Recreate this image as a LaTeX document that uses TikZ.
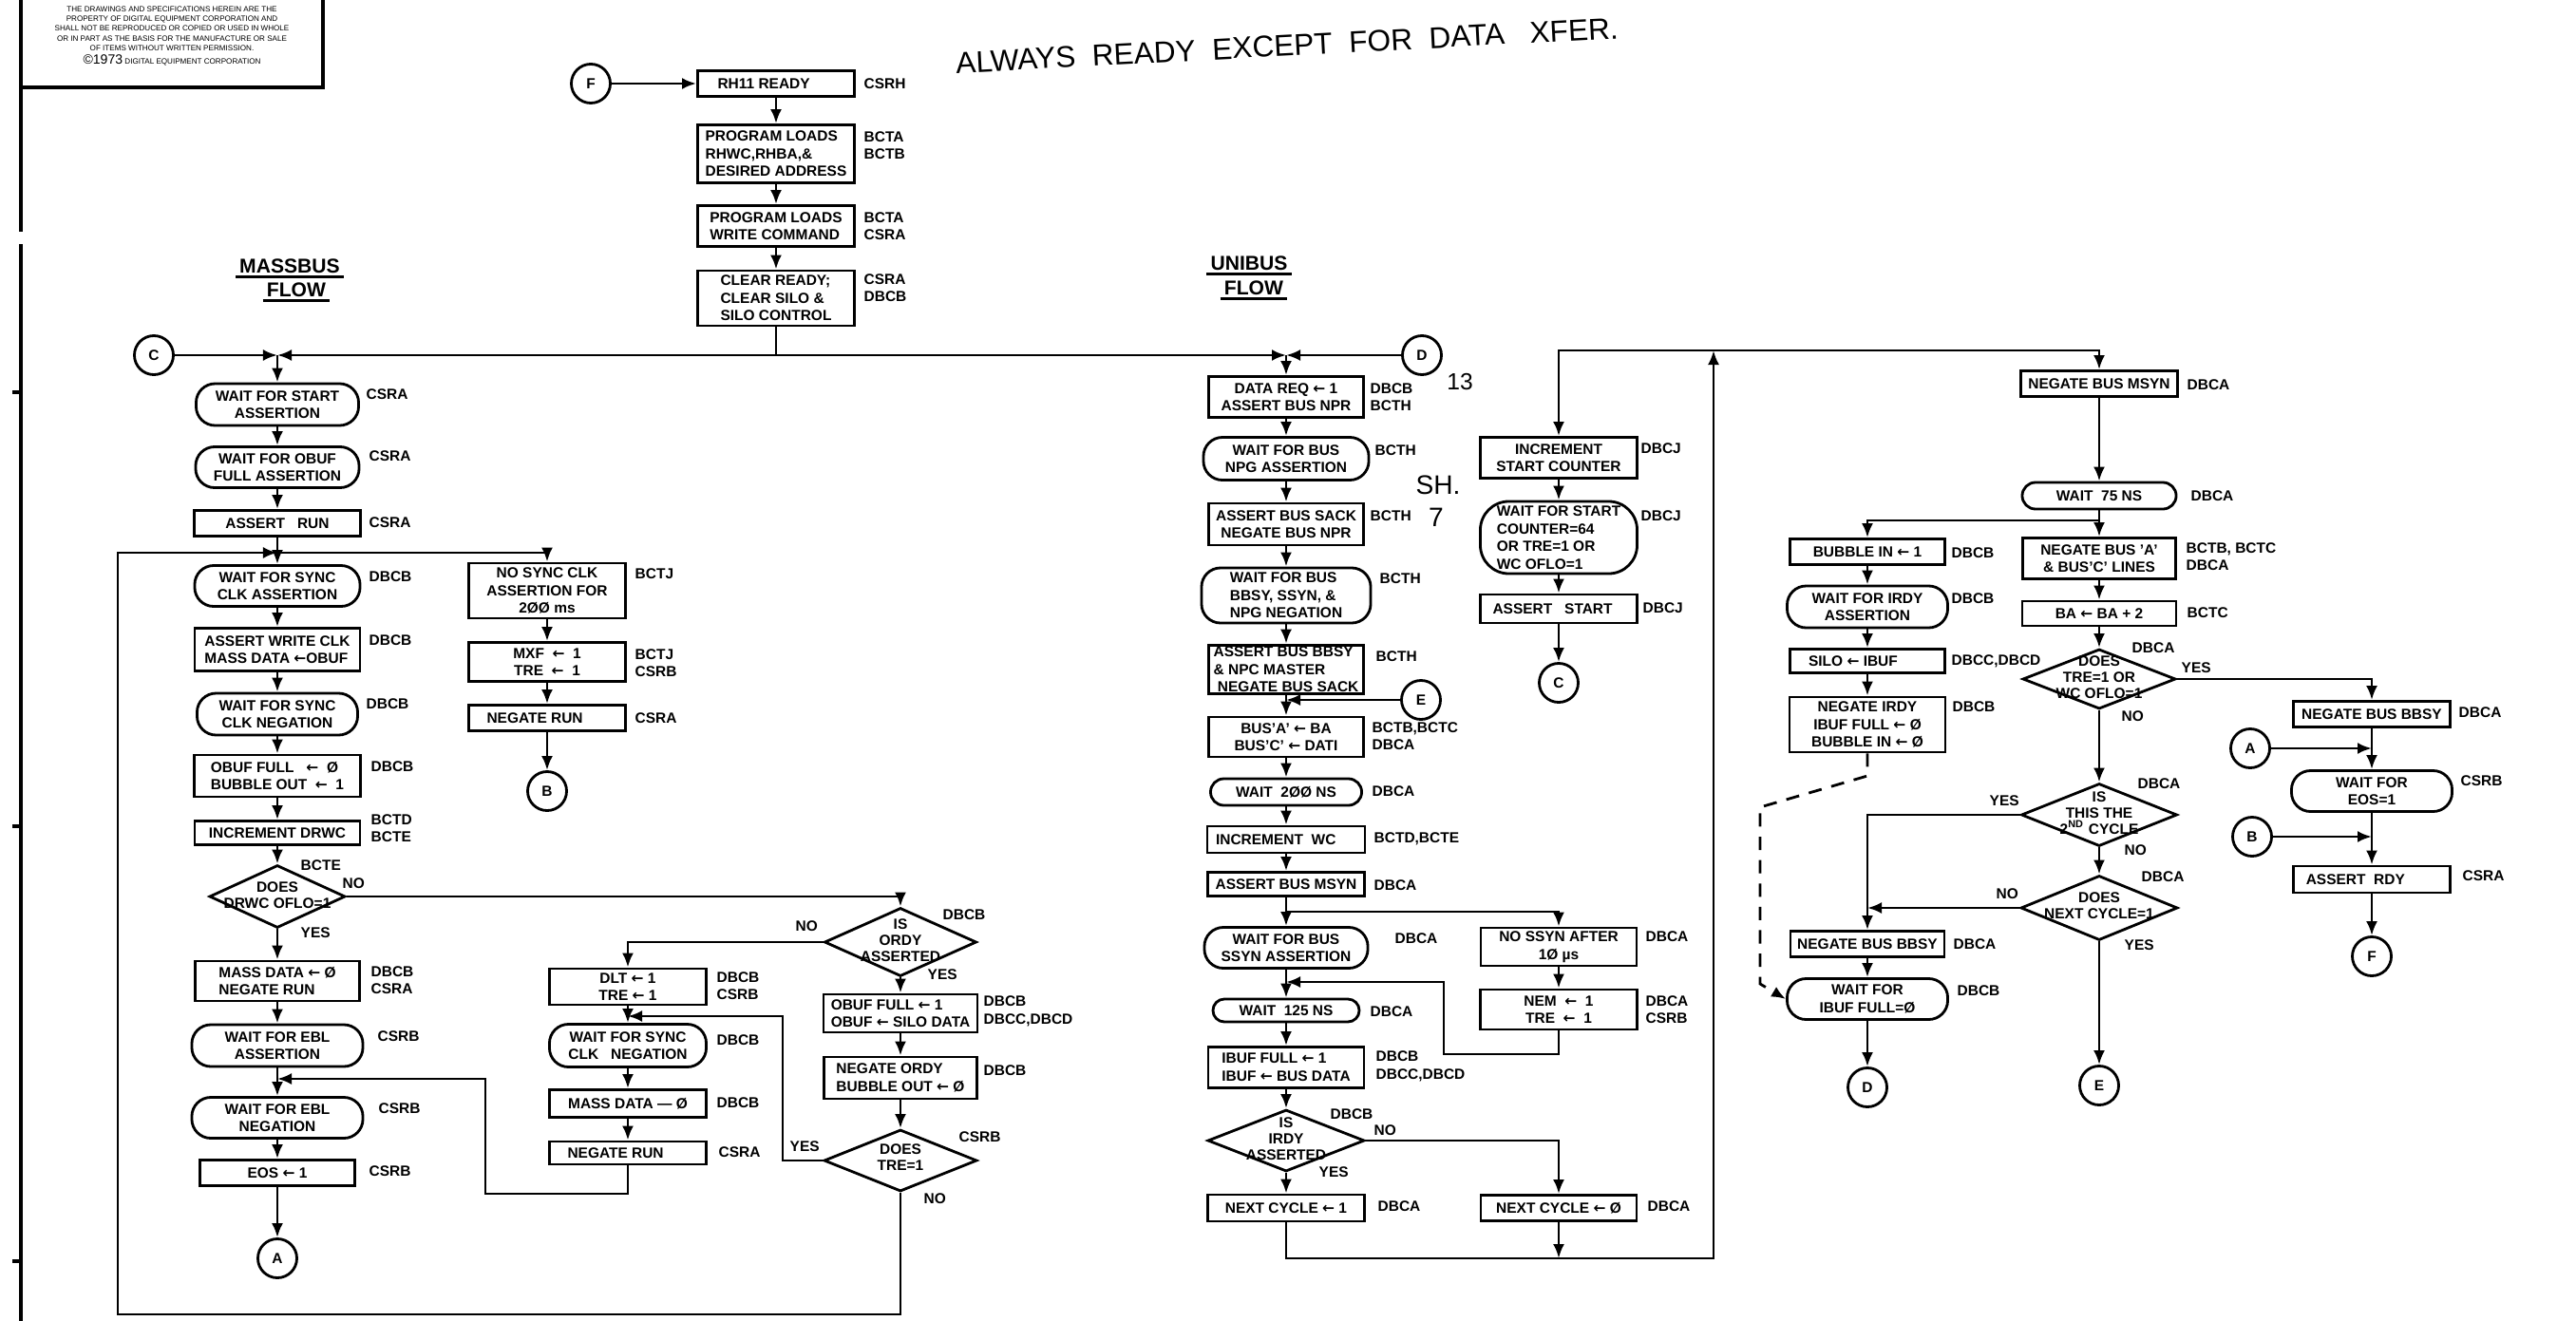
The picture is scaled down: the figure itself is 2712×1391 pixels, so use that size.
\documentclass[tikz,border=0pt]{standalone}
\usepackage{fontspec}
\setmainfont{Liberation Sans}
\newfontfamily\arrfont{DejaVu Sans}
\usetikzlibrary{arrows.meta, positioning, shapes.geometric}

\newcommand{\lett}{\fontsize{4.4}{5.3}\selectfont\bfseries}
\newcommand{\larr}{{\arrfont\bfseries ←}}

\begin{document}
\begin{tikzpicture}[x=0.01cm, y=-0.01cm,
  box/.style={draw, line width=0.8pt, minimum width=1.65cm, minimum height=0.27cm, inner sep=0.5pt, align=center, font=\lett},
  term/.style={box, rounded corners=#1}, term/.default=2mm,
  dia/.style={draw, line width=0.8pt, diamond, minimum width=1.62cm, minimum height=0.66cm, inner sep=0pt},
  dtxt/.style={align=center, inner sep=0pt, font=\fontsize{4.4}{4.8}\selectfont\bfseries},
  conn/.style={circle, draw, line width=0.8pt, minimum size=0.41cm, inner sep=0pt, font=\lett},
  lbl/.style={anchor=west, align=left, inner sep=0pt, font=\lett},
  head/.style={inner sep=1pt, font=\fontsize{6}{7}\selectfont\bfseries},
  hand/.style={inner sep=0pt, font=\fontsize{9}{10}\selectfont},
  ar/.style={-{Latex[length=1.5mm, width=1.2mm]}, line width=0.8pt}]

\useasboundingbox (0,0) rectangle (2712,1391);

% sheet edge and notice
\draw[line width=1.4pt] (22,0) -- (22,244) (22,257) -- (22,1391);
\foreach \t in {413,870,1328} \draw[line width=1pt] (13,\t) -- (22,\t);
\draw[line width=1pt] (22,92) -- (340,92) -- (340,0);
\node[inner sep=0pt, align=center, font=\fontsize{2.3}{2.9}\selectfont] (notice) at (181,38)
  {THE DRAWINGS AND SPECIFICATIONS HEREIN ARE THE\\
   PROPERTY OF DIGITAL EQUIPMENT CORPORATION AND\\
   SHALL NOT BE REPRODUCED OR COPIED OR USED IN WHOLE\\
   OR IN PART AS THE BASIS FOR THE MANUFACTURE OR SALE\\
   OF ITEMS WITHOUT WRITTEN PERMISSION.\\[1.2pt]
   {\fontsize{4}{4}\selectfont ©1973} DIGITAL EQUIPMENT CORPORATION};

\node[hand, rotate=3] (always) at (1355,48) {ALWAYS\ \ READY\ \ EXCEPT\ \ FOR\ \ DATA\ \ \ XFER.};

% start of transfer
\node[conn] (F0) at (622,88) {F};
\node[box, align=left] (rdy) at (817,88) {RH11 READY\ \ \ \ \ \ };
\node[lbl] (rdyL) at (909,88) {CSRH};
\node[box, align=left, minimum height=0.61cm] (ldaddr) at (817,162) {PROGRAM LOADS\\RHWC,RHBA,\&\\DESIRED ADDRESS};
\node[lbl] (ldaddrL) at (909,153) {BCTA\\BCTB};
\node[box, align=left, minimum height=0.43cm] (ldcmd) at (817,238) {PROGRAM LOADS\\WRITE COMMAND};
\node[lbl] (ldcmdL) at (909,238) {BCTA\\CSRA};
\node[box, align=left, minimum height=0.58cm] (clr) at (817,314) {CLEAR READY;\\CLEAR SILO \&\\SILO CONTROL};
\node[lbl] (clrL) at (909,303) {CSRA\\DBCB};

\coordinate (jL) at (292,374);
\coordinate (jM) at (817,374);
\coordinate (jR) at (1354,374);
\node[conn] (C0) at (162,374) {C};
\node[conn] (D0) at (1497,374) {D};

\draw[ar] (F0) -- (rdy);
\draw[ar] (rdy) -- (ldaddr);
\draw[ar] (ldaddr) -- (ldcmd);
\draw[ar] (ldcmd) -- (clr);
\draw[line width=0.8pt] (clr) -- (jM);
\draw[ar] (jM) -- (jL);
\draw[ar] (jM) -- (jR);
\draw[ar] (C0) -- (jL);
\draw[ar] (D0) -- (jR);

\node[head] (mbus) at (305,280) {MASSBUS};
\node[head] (mflow) at (312,305) {FLOW};
\draw[line width=0.8pt] (mbus.south west) -- (mbus.south east);
\draw[line width=0.8pt] (mflow.south west) -- (mflow.south east);
\node[head] (ubus) at (1315,277) {UNIBUS};
\node[head] (uflow) at (1320,303) {FLOW};
\draw[line width=0.8pt] (ubus.south west) -- (ubus.south east);
\draw[line width=0.8pt] (uflow.south west) -- (uflow.south east);

% massbus flow
\node[term, minimum width=1.71cm, minimum height=0.44cm] (wstart) at (292,426) {WAIT FOR START\\ASSERTION};
\node[lbl] (wstartL) at (385,415) {CSRA};
\node[term, minimum width=1.72cm, minimum height=0.43cm] (wobuf) at (292,492) {WAIT FOR OBUF\\FULL ASSERTION};
\node[lbl] (wobufL) at (388,480) {CSRA};
\node[box, minimum width=1.75cm] (arun) at (292,551) {ASSERT\ \ \ RUN};
\node[lbl] (arunL) at (388,550) {CSRA};
\coordinate (jS) at (292,582);
\node[term, minimum width=1.74cm, minimum height=0.43cm] (wsync) at (292,617) {WAIT FOR SYNC\\CLK ASSERTION};
\node[lbl] (wsyncL) at (388,607) {DBCB};
\node[box, align=left, minimum width=1.74cm, minimum height=0.45cm] (awclk) at (292,684) {ASSERT WRITE CLK\\MASS DATA \larr OBUF};
\node[lbl] (awclkL) at (388,674) {DBCB};
\node[term, minimum width=1.69cm, minimum height=0.44cm] (wsneg) at (292,752) {WAIT FOR SYNC\\CLK NEGATION};
\node[lbl] (wsnegL) at (385,741) {DBCB};
\node[box, align=left, minimum width=1.75cm, minimum height=0.44cm] (obfull) at (292,817) {OBUF FULL \ \ \larr\ \ Ø\\BUBBLE OUT \ \larr\ \ 1};
\node[lbl] (obfullL) at (390,807) {DBCB};
\node[box, minimum width=1.74cm, minimum height=0.25cm] (incdrwc) at (292,877) {INCREMENT DRWC};
\node[lbl] (incdrwcL) at (390,872) {BCTD\\BCTE};
\node[dia, minimum width=1.43cm] (ofl) at (292,944) {};
\node[dtxt] (ofltx) at (292,943) {DOES\\DRWC OFLO=1};
\node[lbl] (oflL) at (316,911) {BCTE};
\node[lbl] (oflN) at (360,930) {NO};
\node[lbl] (oflY) at (316,982) {YES};
\node[box, align=left, minimum width=1.73cm, minimum height=0.42cm] (mdata) at (292,1033) {MASS DATA \larr\ Ø\\NEGATE RUN};
\node[lbl] (mdataL) at (390,1032) {DBCB\\CSRA};
\node[term, minimum width=1.8cm, minimum height=0.44cm] (webl) at (292,1101) {WAIT FOR EBL\\ASSERTION};
\node[lbl] (weblL) at (397,1091) {CSRB};
\coordinate (jEB) at (292,1136);
\node[term, minimum width=1.8cm, minimum height=0.43cm] (weblneg) at (292,1177) {WAIT FOR EBL\\NEGATION};
\node[lbl] (weblnegL) at (398,1167) {CSRB};
\node[box, minimum width=1.63cm] (eos) at (292,1235) {EOS \larr\ 1};
\node[lbl] (eosL) at (388,1233) {CSRB};
\node[conn] (A0) at (292,1325) {A};

\node[box, minimum height=0.58cm] (nosync) at (576,622) {NO SYNC CLK\\ASSERTION FOR\\2ØØ ms};
\node[lbl] (nosyncL) at (668,604) {BCTJ};
\node[box, minimum height=0.41cm] (mxf) at (576,697) {MXF \ \larr\ \ 1\\TRE \ \larr\ \ 1};
\node[lbl] (mxfL) at (668,698) {BCTJ\\CSRB};
\node[box, align=left] (nrun1) at (576,756) {NEGATE RUN\ \ \ \ \ \ };
\node[lbl] (nrun1L) at (668,756) {CSRA};
\node[conn] (B0) at (576,833) {B};

\node[dia, minimum width=1.6cm, minimum height=0.72cm] (ordy) at (948,992) {};
\node[dtxt] (ordytx) at (948,990) {IS\\ORDY\\ASSERTED};
\node[lbl] (ordyL) at (992,963) {DBCB};
\node[lbl] (ordyN) at (837,975) {NO};
\node[lbl] (ordyY) at (976,1026) {YES};
\node[box, minimum height=0.38cm] (dlt) at (661,1039) {DLT \larr\ 1\\TRE \larr\ 1};
\node[lbl] (dltL) at (754,1038) {DBCB\\CSRB};
\coordinate (jD) at (661,1070);
\node[term, minimum height=0.45cm] (wsneg2) at (661,1101) {WAIT FOR SYNC\\CLK\ \ \ NEGATION};
\node[lbl] (wsneg2L) at (754,1095) {DBCB};
\node[box, minimum height=0.29cm] (mdata2) at (661,1162) {MASS DATA — Ø};
\node[lbl] (mdata2L) at (754,1161) {DBCB};
\node[box, align=left, minimum height=0.24cm] (nrun2) at (661,1214) {NEGATE RUN\ \ \ \ \ \ };
\node[lbl] (nrun2L) at (756,1213) {CSRA};
\node[box, align=left, minimum width=1.62cm, minimum height=0.40cm] (obfull2) at (948,1067) {OBUF FULL \larr\ 1\\OBUF \larr\ SILO DATA};
\node[lbl] (obfull2L) at (1035,1065) {DBCB\\DBCC,DBCD};
\node[box, align=left, minimum width=1.61cm, minimum height=0.44cm] (nordy) at (948,1135) {NEGATE ORDY\\BUBBLE OUT \larr\ Ø};
\node[lbl] (nordyL) at (1035,1127) {DBCB};
\node[dia, minimum width=1.61cm, minimum height=0.65cm] (tre) at (948,1222) {};
\node[dtxt] (tretx) at (948,1219) {DOES\\TRE=1};
\node[lbl] (treL) at (1009,1197) {CSRB};
\node[lbl] (treY) at (831,1207) {YES};
\node[lbl] (treN) at (972,1262) {NO};

\draw[ar] (jL) -- (wstart);
\draw[ar] (wstart) -- (wobuf);
\draw[ar] (wobuf) -- (arun);
\draw[ar] (arun) -- (wsync);
\draw[ar] (jS) -| (nosync.north);
\draw[ar] (wsync) -- (awclk);
\draw[ar] (awclk) -- (wsneg);
\draw[ar] (wsneg) -- (obfull);
\draw[ar] (obfull) -- (incdrwc);
\draw[ar] (incdrwc) -- (ofl.north);
\draw[ar] (ofl.south) -- (mdata);
\draw[ar] (mdata) -- (webl);
\draw[ar] (webl) -- (weblneg);
\draw[ar] (weblneg) -- (eos);
\draw[ar] (eos) -- (A0);
\draw[ar] (nosync) -- (mxf);
\draw[ar] (mxf) -- (nrun1);
\draw[ar] (nrun1) -- (B0);
\draw[ar] (ofl.east) -| (ordy.north);
\draw[ar] (ordy.west) -| (dlt.north);
\draw[ar] (ordy.south) -- (obfull2);
\draw[ar] (obfull2) -- (nordy);
\draw[ar] (nordy) -- (tre.north);
\draw[ar] (dlt) -- (wsneg2);
\draw[ar] (tre.west) -| (824,1070) -- (jD);
\draw[ar] (wsneg2) -- (mdata2);
\draw[ar] (mdata2) -- (nrun2);
\draw[ar] (nrun2.south) |- (511,1257) |- (jEB);
\draw[ar] (tre.south) |- (124,1384) -- (124,582) -- (jS);

% unibus flow
\node[box, minimum width=1.63cm, minimum height=0.43cm] (dreq) at (1354,418) {DATA REQ \larr\ 1\\ASSERT BUS NPR};
\node[lbl] (dreqL) at (1442,418) {DBCB\\BCTH};
\node[hand, font=\fontsize{7}{8}\selectfont] (n13) at (1537,402) {13};
\node[term, minimum width=1.74cm, minimum height=0.45cm] (wnpg) at (1354,483) {WAIT FOR BUS\\NPG ASSERTION};
\node[lbl] (wnpgL) at (1447,474) {BCTH};
\node[box, minimum width=1.63cm, minimum height=0.44cm] (sack) at (1354,552) {ASSERT BUS SACK\\NEGATE BUS NPR};
\node[lbl] (sackL) at (1442,543) {BCTH};
\node[hand, font=\fontsize{8}{9}\selectfont] (sh) at (1514,511) {SH.};
\node[hand, font=\fontsize{8}{9}\selectfont] (sh7) at (1512,545) {7};
\node[term, minimum width=1.78cm, minimum height=0.58cm, align=left] (wbbsy) at (1354,627) {WAIT FOR BUS\\BBSY, SSYN, \&\\NPG NEGATION};
\node[lbl] (wbbsyL) at (1452,609) {BCTH};
\node[box, minimum width=1.63cm, minimum height=0.50cm, align=left] (abbsy) at (1354,705) {ASSERT BUS BBSY\\\& NPC MASTER\\\ NEGATE BUS SACK};
\node[lbl] (abbsyL) at (1448,691) {BCTH};
\coordinate (jE) at (1354,737);
\node[conn] (E0) at (1496,737) {E};
\node[box, minimum width=1.63cm, minimum height=0.42cm] (busa) at (1354,776) {BUS'A' \larr\ BA\\BUS'C' \larr\ DATI};
\node[lbl] (busaL) at (1444,775) {BCTB,BCTC\\DBCA};
\node[term=1.4mm, minimum width=1.59cm, minimum height=0.28cm] (w200) at (1354,834) {WAIT\ \ 2ØØ NS};
\node[lbl] (w200L) at (1444,833) {DBCA};
\node[box, align=left, minimum width=1.66cm, minimum height=0.28cm] (incwc) at (1354,884) {INCREMENT\ \ WC\ \ \ \ \ };
\node[lbl] (incwcL) at (1446,883) {BCTD,BCTE};
\node[box, minimum height=0.25cm] (amsyn) at (1354,931) {ASSERT BUS MSYN};
\node[lbl] (amsynL) at (1446,932) {DBCA};
\coordinate (jN) at (1354,960);
\node[term, minimum width=1.72cm, minimum height=0.43cm] (wssyn) at (1354,998) {WAIT FOR BUS\\SSYN ASSERTION};
\node[lbl] (wssynL) at (1468,988) {DBCA};
\node[box, minimum width=1.64cm, minimum height=0.40cm] (nossyn) at (1641,997) {NO SSYN AFTER\\1Ø µs};
\node[lbl] (nossynL) at (1732,986) {DBCA};
\node[box, minimum height=0.42cm] (nem) at (1641,1063) {NEM \ \larr\ \ 1\\TRE \ \larr\ \ 1};
\node[lbl] (nemL) at (1732,1063) {DBCA\\CSRB};
\coordinate (jW) at (1354,1034);
\node[term=1.2mm, minimum width=1.54cm, minimum height=0.24cm] (w125) at (1354,1064) {WAIT\ \ 125 NS};
\node[lbl] (w125L) at (1442,1065) {DBCA};
\node[box, align=left, minimum width=1.64cm, minimum height=0.43cm] (ibuf) at (1354,1124) {IBUF FULL \larr\ 1\\IBUF \larr\ BUS DATA};
\node[lbl] (ibufL) at (1448,1123) {DBCB\\DBCC,DBCD};
\node[dia, minimum width=1.65cm, minimum height=0.65cm] (irdy) at (1354,1201) {};
\node[dtxt] (irdytx) at (1354,1199) {IS\\IRDY\\ASSERTED};
\node[lbl] (irdyL) at (1400,1173) {DBCB};
\node[lbl] (irdyN) at (1446,1190) {NO};
\node[lbl] (irdyY) at (1388,1234) {YES};
\node[box, align=left, minimum height=0.28cm] (nc1) at (1354,1272) {NEXT CYCLE \larr\ 1};
\node[lbl] (nc1L) at (1450,1270) {DBCA};
\node[box, align=left, minimum width=1.64cm, minimum height=0.27cm] (nc0) at (1641,1272) {NEXT CYCLE \larr\ Ø};
\node[lbl] (nc0L) at (1734,1270) {DBCA};
\coordinate (jB) at (1641,1325);
\coordinate (jT) at (1804,369);

\draw[ar] (jR) -- (dreq);
\draw[ar] (dreq) -- (wnpg);
\draw[ar] (wnpg) -- (sack);
\draw[ar] (sack) -- (wbbsy);
\draw[ar] (wbbsy) -- (abbsy);
\draw[ar] (abbsy) -- (busa);
\draw[ar] (E0) -- (jE);
\draw[ar] (busa) -- (w200);
\draw[ar] (w200) -- (incwc);
\draw[ar] (incwc) -- (amsyn);
\draw[ar] (amsyn) -- (wssyn);
\draw[ar] (jN) -| (nossyn.north);
\draw[ar] (nossyn) -- (nem);
\draw[ar] (nem.south) |- (1520,1110) |- (jW);
\draw[ar] (wssyn) -- (w125);
\draw[ar] (w125) -- (ibuf);
\draw[ar] (ibuf) -- (irdy.north);
\draw[ar] (irdy.south) -- (nc1);
\draw[ar] (irdy.east) -| (nc0.north);
\draw[ar] (nc0) -- (jB);
\draw[ar] (nc1.south) |- (1804,1325) -- (jT);

% restart and end of cycle
\node[box, minimum height=0.43cm] (isc) at (1641,482) {INCREMENT\\START COUNTER};
\node[lbl] (iscL) at (1727,472) {DBCJ};
\node[term=3mm, minimum height=0.76cm, align=left] (wsc) at (1641,566) {WAIT FOR START\\COUNTER=64\\OR TRE=1 OR\\WC OFLO=1};
\node[lbl] (wscL) at (1727,543) {DBCJ};
\node[box, align=left, minimum height=0.30cm] (astart) at (1641,641) {ASSERT\ \ \ START\ \ \ };
\node[lbl] (astartL) at (1729,640) {DBCJ};
\node[conn] (C1) at (1641,719) {C};

\node[box] (nmsyn) at (2210,404) {NEGATE BUS MSYN};
\node[lbl] (nmsynL) at (2302,405) {DBCA};
\node[term=1.4mm, minimum width=1.62cm, minimum height=0.28cm] (w75) at (2210,522) {WAIT\ \ 75 NS};
\node[lbl] (w75L) at (2306,522) {DBCA};
\coordinate (jS2) at (2210,548);
\node[box, minimum width=1.63cm] (bin) at (1966,581) {BUBBLE IN \larr\ 1};
\node[lbl] (binL) at (2054,582) {DBCB};
\node[term, minimum width=1.69cm, minimum height=0.44cm] (wirdy) at (1966,639) {WAIT FOR IRDY\\ASSERTION};
\node[lbl] (wirdyL) at (2054,630) {DBCB};
\node[box, align=left, minimum width=1.63cm, minimum height=0.25cm] (silo) at (1966,696) {SILO \larr\ IBUF\ \ \ \ \ \ \ };
\node[lbl] (siloL) at (2054,696) {DBCC,DBCD};
\node[box, minimum width=1.64cm, minimum height=0.58cm] (nirdy) at (1966,763) {NEGATE IRDY\\IBUF FULL \larr\ Ø\\BUBBLE IN \larr\ Ø};
\node[lbl] (nirdyL) at (2055,744) {DBCB};
\node[box, minimum width=1.61cm, minimum height=0.43cm] (nbusa) at (2210,588) {NEGATE BUS 'A'\\\& BUS'C' LINES};
\node[lbl] (nbusaL) at (2301,586) {BCTB, BCTC\\DBCA};
\node[box, minimum width=1.62cm, minimum height=0.26cm] (ba) at (2210,646) {BA \larr\ BA + 2};
\node[lbl] (baL) at (2302,645) {BCTC};
\node[dia, minimum width=1.61cm, minimum height=0.63cm] (trewc) at (2210,715) {};
\node[dtxt] (trewctx) at (2210,713) {DOES\\TRE=1 OR\\WC OFLO=1};
\node[lbl] (trewcL) at (2244,682) {DBCA};
\node[lbl] (trewcY) at (2296,703) {YES};
\node[lbl] (trewcN) at (2233,754) {NO};
\node[dia, minimum width=1.64cm, minimum height=0.66cm] (cyc2) at (2210,858) {};
\node[dtxt] (cyc2tx) at (2210,856) {IS\\THIS THE\\2\textsuperscript{ND} CYCLE};
\node[lbl] (cyc2L) at (2250,825) {DBCA};
\node[lbl] (cyc2Y) at (2094,843) {YES};
\node[lbl] (cyc2N) at (2236,895) {NO};
\node[dia, minimum width=1.65cm, minimum height=0.68cm] (ncyc) at (2210,956) {};
\node[dtxt] (ncyctx) at (2210,954) {DOES\\NEXT CYCLE=1};
\node[lbl] (ncycL) at (2254,923) {DBCA};
\node[lbl] (ncycN) at (2101,941) {NO};
\node[lbl] (ncycY) at (2236,995) {YES};
\coordinate (jY) at (1966,956);
\node[box, minimum width=1.62cm] (nbbsyL) at (1966,994) {NEGATE BUS BBSY};
\node[lbl] (nbbsyLL) at (2056,994) {DBCA};
\node[term, minimum width=1.69cm, minimum height=0.43cm] (wibuf) at (1966,1052) {WAIT FOR\\IBUF FULL=Ø};
\node[lbl] (wibufL) at (2060,1043) {DBCB};
\node[conn] (D1) at (1966,1145) {D};
\node[conn] (E1) at (2210,1143) {E};

\node[box] (nbbsyR) at (2497,752) {NEGATE BUS BBSY};
\node[lbl] (nbbsyRL) at (2588,750) {DBCA};
\node[conn] (A1) at (2369,788) {A};
\coordinate (jA) at (2497,788);
\node[term, minimum width=1.69cm, minimum height=0.43cm] (weos) at (2497,833) {WAIT FOR\\EOS=1};
\node[lbl] (weosL) at (2590,822) {CSRB};
\node[conn] (B1) at (2371,881) {B};
\coordinate (jBB) at (2497,881);
\node[box, align=left, minimum height=0.28cm] (ardy) at (2497,926) {ASSERT\ \ RDY\ \ \ \ \ \ \ \ };
\node[lbl] (ardyL) at (2592,922) {CSRA};
\node[conn] (F1) at (2497,1007) {F};

\draw[ar] (jT) -| (isc.north);
\draw[ar] (jT) -| (nmsyn.north);
\draw[ar] (isc) -- (wsc);
\draw[ar] (wsc) -- (astart);
\draw[ar] (astart) -- (C1);
\draw[ar] (nmsyn) -- (w75);
\draw[ar] (w75) -- (nbusa);
\draw[ar] (jS2) -| (bin.north);
\draw[ar] (bin) -- (wirdy);
\draw[ar] (wirdy) -- (silo);
\draw[ar] (silo) -- (nirdy);
\draw[ar, dash pattern=on 4pt off 3pt] (nirdy.south) -- (1966,817) -- (1853,850) -- (1853,1036) -- (wibuf.west);
\draw[ar] (nbusa) -- (ba);
\draw[ar] (ba) -- (trewc.north);
\draw[ar] (trewc.east) -| (nbbsyR.north);
\draw[ar] (trewc.south) -- (cyc2.north);
\draw[ar] (cyc2.west) -| (nbbsyL.north);
\draw[ar] (cyc2.south) -- (ncyc.north);
\draw[ar] (ncyc.west) -- (jY);
\draw[ar] (ncyc.south) -- (E1);
\draw[ar] (nbbsyL) -- (wibuf);
\draw[ar] (wibuf) -- (D1);
\draw[ar] (nbbsyR) -- (weos);
\draw[ar] (A1) -- (jA);
\draw[ar] (weos) -- (ardy);
\draw[ar] (B1) -- (jBB);
\draw[ar] (ardy) -- (F1);
\end{tikzpicture}
\end{document}
